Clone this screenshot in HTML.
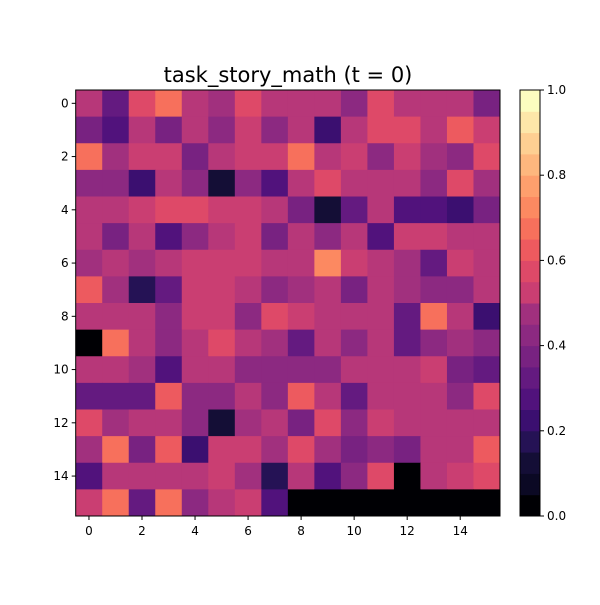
<!DOCTYPE html>
<html><head><meta charset="utf-8"><style>
body{margin:0;background:#fff;width:600px;height:600px;overflow:hidden}
text{font-family:"DejaVu Sans","Liberation Sans",sans-serif;fill:#000}
</style></head><body>
<svg id="chart" width="600" height="600" xmlns="http://www.w3.org/2000/svg">
<text x="288" y="82" font-size="21" text-anchor="middle">task_story_math (t = 0)</text>
<g id="cells"></g>
<g id="axes"></g>
<g id="cbar"></g>
</svg>
<script>
const rowLabels = [0,1,2,3,4,5,6,7,8,9,10,11,12,13,14,15];
const colLabels = [0,1,2,3,4,5,6,7,8,9,10,11,12,13,14,15];
const xTicks = [0,2,4,6,8,10,12,14];
const yTicks = [0,2,4,6,8,10,12,14];
const cbarTicks = [0.0,0.2,0.4,0.6,0.8,1.0];
const values = [
[0.5,0.3,0.6,0.7,0.5,0.45,0.6,0.5,0.5,0.5,0.4,0.6,0.5,0.5,0.5,0.35],
[0.35,0.25,0.5,0.35,0.5,0.4,0.55,0.4,0.5,0.2,0.5,0.6,0.6,0.5,0.65,0.55],
[0.7,0.45,0.55,0.55,0.35,0.5,0.55,0.55,0.7,0.5,0.55,0.4,0.55,0.45,0.4,0.6],
[0.4,0.4,0.2,0.5,0.4,0.1,0.4,0.25,0.5,0.6,0.5,0.5,0.5,0.4,0.6,0.45],
[0.5,0.5,0.55,0.6,0.6,0.55,0.55,0.5,0.35,0.1,0.3,0.5,0.25,0.25,0.2,0.35],
[0.5,0.35,0.5,0.25,0.4,0.5,0.55,0.35,0.5,0.4,0.5,0.25,0.55,0.55,0.5,0.5],
[0.45,0.5,0.45,0.5,0.55,0.55,0.55,0.5,0.5,0.75,0.55,0.5,0.45,0.3,0.55,0.5],
[0.65,0.45,0.15,0.3,0.55,0.55,0.5,0.4,0.45,0.5,0.35,0.5,0.45,0.4,0.4,0.5],
[0.5,0.5,0.5,0.4,0.55,0.55,0.4,0.6,0.55,0.5,0.5,0.5,0.3,0.7,0.5,0.2],
[0.0,0.7,0.5,0.4,0.5,0.6,0.5,0.45,0.3,0.5,0.4,0.5,0.3,0.4,0.45,0.4],
[0.5,0.5,0.45,0.25,0.5,0.5,0.4,0.4,0.4,0.4,0.5,0.5,0.5,0.55,0.35,0.3],
[0.3,0.3,0.3,0.65,0.4,0.4,0.5,0.4,0.65,0.5,0.3,0.5,0.5,0.5,0.4,0.6],
[0.6,0.45,0.5,0.5,0.4,0.1,0.45,0.5,0.35,0.6,0.4,0.55,0.5,0.5,0.5,0.5],
[0.45,0.7,0.35,0.65,0.2,0.55,0.55,0.45,0.6,0.45,0.35,0.4,0.35,0.5,0.5,0.65],
[0.25,0.5,0.5,0.5,0.5,0.55,0.45,0.15,0.5,0.25,0.4,0.6,0.0,0.5,0.55,0.6],
[0.55,0.7,0.3,0.7,0.4,0.5,0.55,0.25,0,0,0,0,0,0,0,0]
];
const magma=["#000004","#0b0924","#140e36","#251255","#3b0f70","#51127c","#641a80","#782281","#8c2981","#a1307e","#b73779","#ca3e72","#de4968","#ed5a5f","#f7705c","#fc8961","#fe9f6d","#feb77e","#fecf92","#fde7a9","#fcfdbf"];
function cmap(v){let i=Math.round(Math.max(0,Math.min(1,v))*20);return magma[i];}
const NS="http://www.w3.org/2000/svg";
const L=75.7,T=90,W=424.3,H=426;
const n=16;
const xs=c=>L+(c+0.5)*W/n, ys=r=>T+(r+0.5)*H/n;
const cw=W/n,ch=H/n;
function mk(tag,attrs,parent){const e=document.createElementNS(NS,tag);for(const k in attrs)e.setAttribute(k,attrs[k]);parent.appendChild(e);return e;}
const cells=document.getElementById('cells');
values.forEach((row,r)=>row.forEach((v,c)=>{
 const e=mk('rect',{x:xs(c)-cw/2,y:ys(r)-ch/2,width:cw+0.5,height:ch+0.5,fill:cmap(v)},cells);
 
 
}));
const axes=document.getElementById('axes');
mk('rect',{x:L,y:T,width:W,height:H,fill:'none',stroke:'#000','stroke-width':1},axes);
xTicks.forEach(t=>{
 mk('line',{x1:xs(t),x2:xs(t),y1:T+H,y2:T+H+4,stroke:'#000'},axes);
 const e=mk('text',{x:xs(t),y:T+H+19,'font-size':12,'text-anchor':'middle'},axes);e.textContent=t;
 
 
});
yTicks.forEach(t=>{
 mk('line',{x1:L-4,x2:L,y1:ys(t),y2:ys(t),stroke:'#000'},axes);
 const e=mk('text',{x:L-7,y:ys(t)+4,'font-size':12,'text-anchor':'end'},axes);e.textContent=t;
 
 
});
const cb=document.getElementById('cbar');
const CX=520,CW=20,CT=90,CH=426;
for(let i=0;i<20;i++){
 mk('rect',{x:CX,y:CT+CH-(i+1)*CH/20,width:CW,height:CH/20+0.5,fill:magma[i<10?i:i+1]},cb);
}
mk('rect',{x:CX,y:CT,width:CW,height:CH,fill:'none',stroke:'#000'},cb);
cbarTicks.forEach(t=>{
 const y=CT+CH-t*CH;
 mk('line',{x1:CX+CW,x2:CX+CW+4,y1:y,y2:y,stroke:'#000'},cb);
 const e=mk('text',{x:CX+CW+7,y:y+4,'font-size':12},cb);e.textContent=t.toFixed(1);
 
 
});
</script>
</body></html>
